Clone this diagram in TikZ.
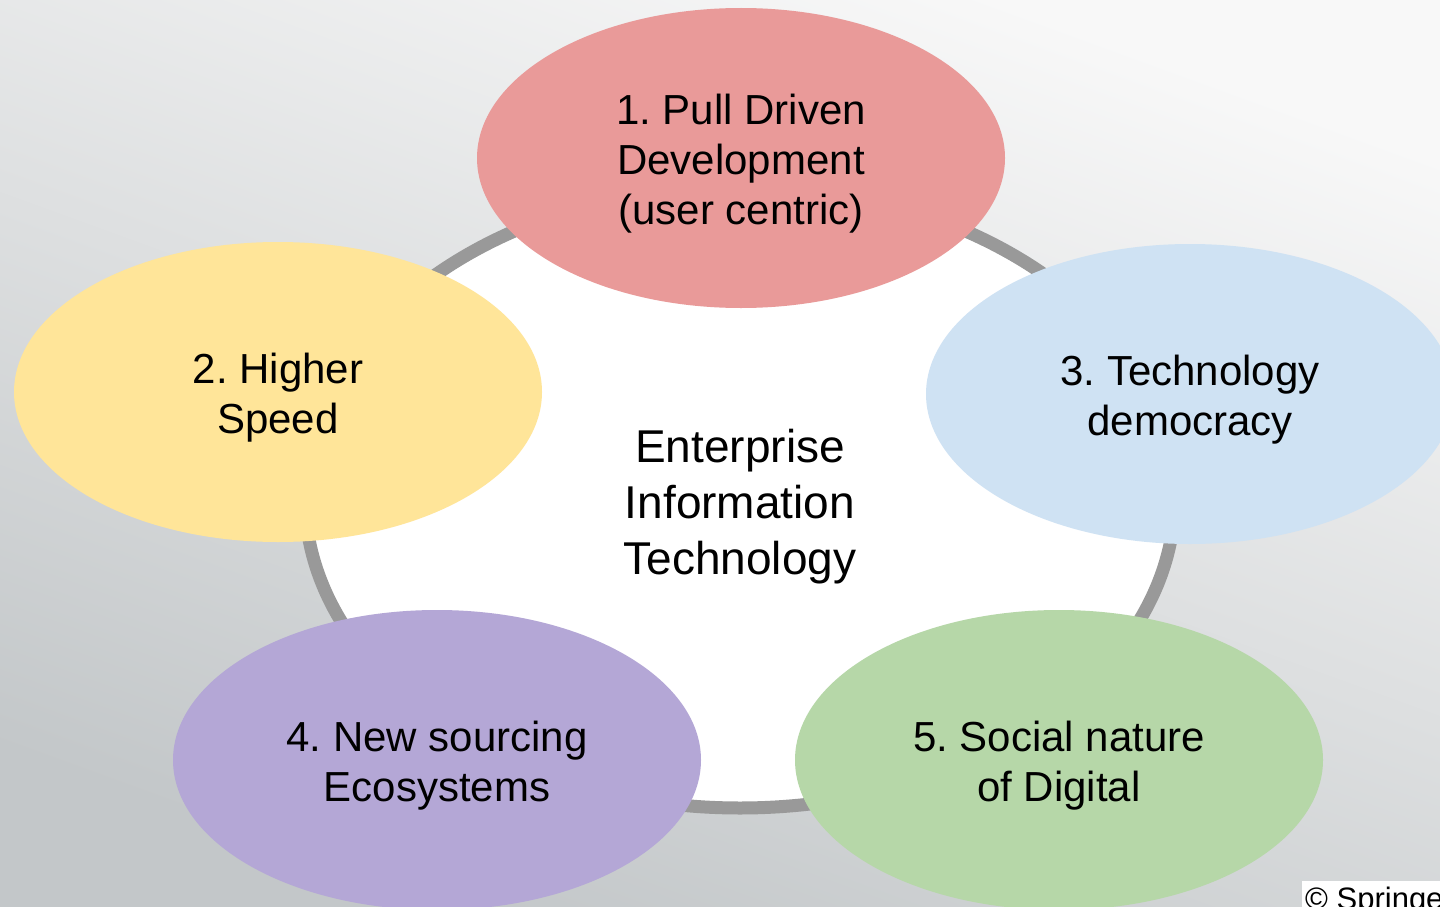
\documentclass[tikz,border=0pt]{standalone}
\usepackage{fontspec}
\setmainfont{Liberation Sans}
\usepackage{tikz}
\usetikzlibrary{shapes.geometric}
\frenchspacing
\definecolor{pullred}{HTML}{E99A99}
\definecolor{speedyellow}{HTML}{FFE599}
\definecolor{techblue}{HTML}{CFE2F3}
\definecolor{sourcepurple}{HTML}{B4A7D6}
\definecolor{socialgreen}{HTML}{B6D7A8}
\definecolor{ringgray}{HTML}{999999}
\definecolor{bgtop}{HTML}{F8F8F8}
\definecolor{bgbottom}{HTML}{C3C7C9}
\newcommand{\firstline}[1]{\rule{0pt}{#1}}
\tikzstyle{hub} = [ellipse, minimum width=870pt, minimum height=622pt, inner sep=0pt, draw=ringgray, line width=13pt, fill=white, align=center, font=\fontsize{46}{56}\selectfont]
\tikzstyle{driver} = [ellipse, minimum width=528pt, minimum height=300pt, inner sep=0pt, align=center, font=\fontsize{42}{50}\selectfont]
\tikzstyle{credit} = [rectangle, anchor=north west, fill=white, inner xsep=3pt, inner ysep=6pt, font=\fontsize{31}{34}\selectfont]

\begin{document}
\begin{tikzpicture}[x=1pt, y=-1pt]

  \clip (0,0) rectangle (1440,907);
  \shade [top color=bgtop, bottom color=bgbottom, shading angle=-20] (0,0) rectangle (1440,907);

  \node (ring) [hub] at (740,497) {\firstline{52pt}Enterprise\\Information\\Technology};

  \node (pull) [driver, fill=pullred] at (741,158) {\firstline{42pt}1. Pull Driven\\Development\\(user centric)};
  \node (speed) [driver, fill=speedyellow] at (278,392) {\firstline{42pt}2. Higher\\Speed};
  \node (democracy) [driver, fill=techblue] at (1190,394) {\firstline{42pt}3. Technology\\democracy};
  \node (sourcing) [driver, fill=sourcepurple] at (437,760) {\firstline{42pt}4. New sourcing\\Ecosystems};
  \node (social) [driver, fill=socialgreen] at (1059,760) {\firstline{42pt}5. Social nature\\of Digital};

  \node (springer) [credit] at (1302,881) {© Springer};

\end{tikzpicture}
\end{document}
